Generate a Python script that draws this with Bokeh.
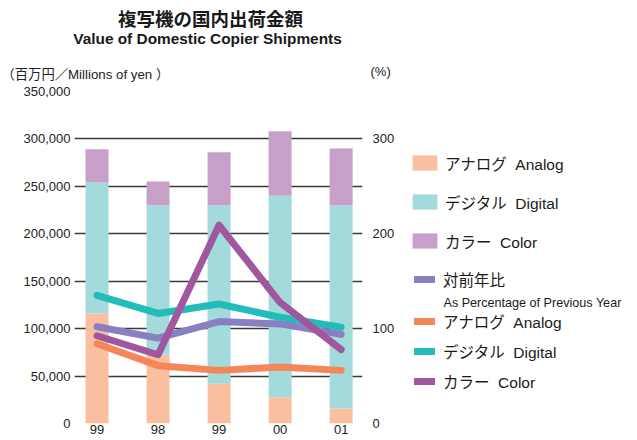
from bokeh.plotting import figure
from bokeh.layouts import column, row
from bokeh.models import (ColumnDataSource, Range1d, LinearAxis, FixedTicker, Legend,
                          LegendItem, Label, NumeralTickFormatter)
from bokeh.embed import file_html
from bokeh.resources import INLINE

# ---------------- data ----------------
years = ["99", "98", "99", "00", "01"]
analog_value = [116000, 72600, 42000, 27700, 15800]     # millions of yen
digital_value = [138000, 157400, 188000, 212300, 214200]
color_value = [35000, 25000, 56000, 68000, 60000]

total_pct = [102, 90, 107.5, 105, 94]                 # % of previous year
analog_pct = [84, 61, 56, 59.5, 56]
digital_pct = [135, 116, 126, 112, 101.5]
color_pct = [92.5, 72.5, 209, 127.5, 78]

left_ticks = [0, 50000, 100000, 150000, 200000, 250000, 300000, 350000]
right_ticks = [0, 100, 200, 300]

bar_labels = ["アナログ  Analog", "デジタル  Digital", "カラー  Color"]
line_labels = ["対前年比", "アナログ  Analog", "デジタル  Digital", "カラー  Color"]

# ---------------- styling ----------------
FONT = "'Liberation Sans', 'Noto Sans CJK JP'"
BAR_COLORS = ["#F9BFA0", "#A3DADB", "#C6A0C9"]
LINE_COLORS = {"total": "#8880C0", "analog": "#F58657", "digital": "#22BDBA", "color": "#A0579F"}
TXT = "#1a1a1a"
HEAD_H = 84
BODY_H = 356
TOP_B = 7
BOT_B = 17


def bare(width, height, **kw):
    f = figure(width=width, height=height, x_range=Range1d(0, 1), y_range=Range1d(0, 1),
               x_axis_type=None, y_axis_type=None, output_backend="svg", toolbar_location=None,
               **kw)
    f.outline_line_color = None
    f.grid.visible = False
    return f


def lab(f, x, y, t, size, bold=False, align="left", font=FONT, color=TXT):
    f.add_layout(Label(x=x, y=y, x_units="screen", y_units="screen", text=t,
                       text_font=font, text_font_size=size, text_align=align,
                       text_baseline="middle", text_color=color,
                       text_font_style="bold" if bold else "normal"))


# ---------------- header ----------------
head = bare(637, HEAD_H, min_border=0)
lab(head, 210, HEAD_H - 17, "複写機の国内出荷金額", "18.5px", bold=True, align="center",
    font="'Noto Sans CJK JP'")
lab(head, 207, HEAD_H - 38, "Value of Domestic Copier Shipments", "15.4px", bold=True,
    align="center", font="'Liberation Sans'")
lab(head, 1, HEAD_H - 74, "（百万円／Millions of yen ）", "13.3px", color="#222222")
lab(head, 370, HEAD_H - 71, "(%)", "13px", color="#222222")

# ---------------- main chart ----------------
xs = list(range(len(years)))
src = ColumnDataSource(dict(x=xs, analog=analog_value, digital=digital_value, color=color_value,
                            tp=total_pct, ap=analog_pct, dp=digital_pct, cp=color_pct))

p = figure(width=400, height=BODY_H, x_range=Range1d(-0.369, 4.35), y_range=Range1d(0, 350000),
           output_backend="svg", toolbar_location=None,
           min_border_left=74, min_border_right=38, min_border_top=TOP_B, min_border_bottom=BOT_B)
p.outline_line_color = None
p.extra_y_ranges = {"pct": Range1d(0, 350)}

p.xgrid.visible = False
p.ygrid.ticker = FixedTicker(ticks=left_ticks)
p.ygrid.grid_line_color = "#3a3a3a"
p.ygrid.grid_line_width = 1.4


def style_axis(ax, standoff):
    ax.axis_line_color = None
    ax.major_tick_line_color = None
    ax.minor_tick_line_color = None
    ax.major_tick_out = 0
    ax.major_tick_in = 0
    ax.minor_tick_out = 0
    ax.minor_tick_in = 0
    ax.major_label_standoff = standoff
    ax.major_label_text_font = "Liberation Sans"
    ax.major_label_text_font_size = "13px"
    ax.major_label_text_color = "#222222"


ya = p.yaxis[0]
ya.ticker = FixedTicker(ticks=left_ticks)
ya.formatter = NumeralTickFormatter(format="0,0")
style_axis(ya, 4)

xa = p.xaxis[0]
xa.ticker = FixedTicker(ticks=xs)
xa.major_label_overrides = {i: y for i, y in zip(xs, years)}
style_axis(xa, 1)

ra = LinearAxis(y_range_name="pct", ticker=FixedTicker(ticks=right_ticks))
style_axis(ra, 10)
p.add_layout(ra, "right")

# bars
bars = p.vbar_stack(["analog", "digital", "color"], x="x", width=0.377, source=src,
                    color=BAR_COLORS, line_color=None)


def ln(f, col, c):
    return f.line("x", col, source=src, y_range_name="pct", line_width=7, line_color=c,
                  line_cap="round", line_join="round")


ln(p, "dp", LINE_COLORS["digital"])
ln(p, "tp", LINE_COLORS["total"])
ln(p, "cp", LINE_COLORS["color"])
ln(p, "ap", LINE_COLORS["analog"])

# ---------------- legend panel ----------------
# same series, drawn outside this panel's visible range, only to feed the legend swatches
leg = bare(237, BODY_H, min_border_left=0, min_border_right=0,
           min_border_top=TOP_B, min_border_bottom=BOT_B)
leg.x_range = Range1d(-20, -19)
leg.extra_y_ranges = {"pct": Range1d(0, 1)}
lbars = leg.vbar_stack(["analog", "digital", "color"], x="x", width=0.377, source=src,
                       color=BAR_COLORS, line_color=None)
l_tot = ln(leg, "tp", LINE_COLORS["total"])
l_ana = ln(leg, "ap", LINE_COLORS["analog"])
l_dig = ln(leg, "dp", LINE_COLORS["digital"])
l_col = ln(leg, "cp", LINE_COLORS["color"])

FRAME_BOTTOM = HEAD_H + BODY_H - BOT_B   # page y of frame bottom


def mk_legend(items, loc, gw, gh, lh, spacing, standoff):
    lg = Legend(items=items, location=loc, glyph_width=gw, glyph_height=gh, label_height=lh,
                spacing=spacing, label_standoff=standoff, padding=0, margin=0,
                border_line_color=None, background_fill_alpha=0,
                label_text_font=FONT, label_text_font_size="15.5px", label_text_color=TXT,
                label_text_baseline="middle")
    leg.add_layout(lg, "center")


mk_legend([LegendItem(label=l, renderers=[r]) for l, r in zip(bar_labels, lbars)],
          (9, FRAME_BOTTOM - 251.5), 31, 19, 22, 17, 5)
mk_legend([LegendItem(label=line_labels[0], renderers=[l_tot])],
          (14, FRAME_BOTTOM - 290), 21, 22, 22, 0, 8)
mk_legend([LegendItem(label=l, renderers=[r]) for l, r in zip(line_labels[1:], [l_ana, l_dig, l_col])],
          (14, FRAME_BOTTOM - 392), 21, 22, 22, 8, 8)
lab(leg, 43, FRAME_BOTTOM - 302, "As Percentage of Previous Year", "12.6px")

layout = column(head, row(p, leg, spacing=0), spacing=0)
open("out.html", "w").write(file_html(layout, INLINE))
